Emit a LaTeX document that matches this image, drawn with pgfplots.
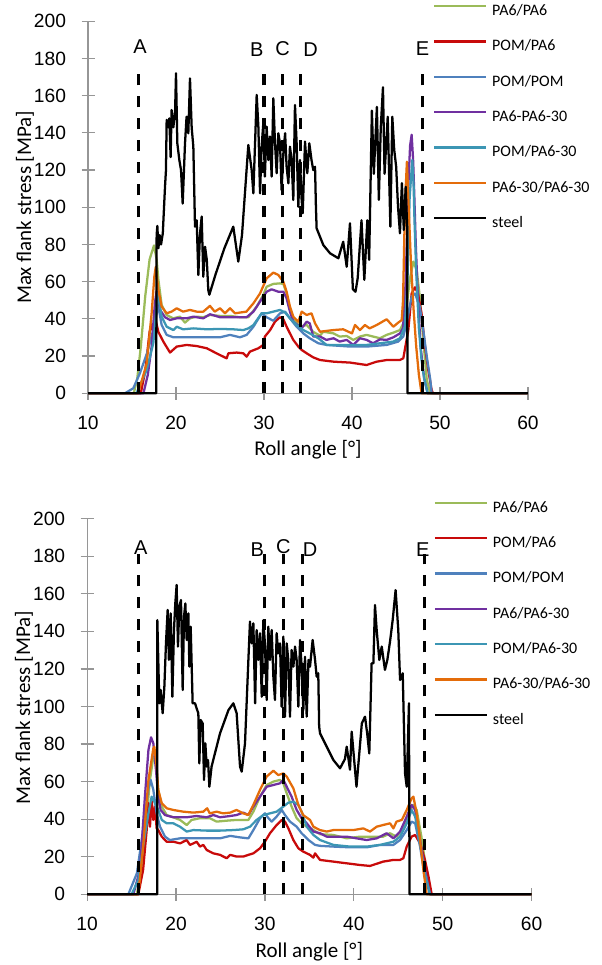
\documentclass[border=0pt]{standalone}
\usepackage{fontspec}
\usepackage{pgfplots}
\pgfplotsset{compat=1.18}
\setmainfont{Carlito}
\newfontfamily\arialf{Liberation Sans}
\definecolor{axgray}{RGB}{150,150,150}
\definecolor{cgreen}{RGB}{155,187,89}
\definecolor{cred}{RGB}{200,10,10}
\definecolor{cblue}{RGB}{79,129,189}
\definecolor{cpurple}{RGB}{112,48,160}
\definecolor{cteal}{RGB}{60,150,180}
\definecolor{corange}{RGB}{228,108,10}
\tikzset{letter/.style={font=\arialf\fontsize{15}{18}\selectfont, inner sep=0pt}}
\pgfplotsset{
  panel/.style={
    scale only axis, xmin=10, xmax=60, ymin=0, ymax=200,
    xtick={10,20,30,40,50,60}, ytick={0,20,...,200},
    axis x line*=bottom, axis y line*=left,
    axis line style={draw=axgray, line width=0.9pt, -},
    tick style={draw=axgray, line width=0.9pt},
    tick align=center, major tick length=9.75pt,
    /pgf/number format/assume math mode=true,
    tick label style={font=\arialf\fontsize{14.4}{16}\selectfont},
    xticklabel style={anchor=center, yshift=-17pt},
    yticklabel style={anchor=east, inner sep=0pt, xshift=-11.4pt},
    label style={font=\fontsize{15.75}{18}\selectfont},
    clip=false,
    legend cell align=left,
    legend style={draw=none, fill=none, inner sep=0pt, anchor=north west,
      font=\fontsize{12}{14}\selectfont, row sep=14.5pt, column sep=3.75pt,
      nodes={inner sep=0pt, text height=9pt, text depth=3pt}},
    legend image code/.code={\draw[##1] (0pt,4pt) -- (39pt,4pt);},
    every axis plot/.append style={line width=1.7pt, line join=round},
  },
  vdash/.style={black, line width=2.3pt, dash pattern=on 8.5pt off 8pt, forget plot},
}
\begin{document}
\begin{tikzpicture}
\useasboundingbox (0pt,0pt) rectangle (451.5pt,723.75pt);
% ---------------- top panel ----------------
\begin{axis}[panel, at={(66pt,428.78pt)}, anchor=south west,
  width=330pt, height=279pt,
  xlabel={Roll angle [°]}, ylabel={Max flank stress [MPa]},
  xlabel style={at={(axis description cs:0.5,-0.152)}, anchor=center},
  ylabel style={at={(axis description cs:-0.143,0.5)}, anchor=center},
  legend style={at={(axis description cs:0.7834,1.0484)}}]
\addplot[cgreen] coordinates {(10,0) (15.2,0) (15.6,8) (16.0,25) (16.5,52) (17.0,72) (17.5,79.5) (17.8,72) (18.0,61) (18.37,47.5) (18.94,42.1) (19.7,40.3) (20.45,41.2) (21.02,38) (21.59,40.3) (22.35,41.2) (23.1,40.9) (23.86,42.1) (25.0,41.6) (26.14,41.6) (27.27,40.9) (28.22,40.9) (29.17,46.6) (29.92,52.9) (30.3,57.3) (31.06,58.8) (31.82,59.1) (32.2,58.8) (32.57,53.7) (32.95,44.8) (33.33,40.3) (34.1,35.8) (34.85,36.7) (35.6,33) (36.36,31) (36.74,33.1) (37.9,32.2) (38.6,30.5) (39.4,30.8) (40.15,28.7) (40.9,30.5) (41.66,31.4) (42.4,30.5) (43.18,29.6) (43.94,31.4) (44.7,32.6) (45.45,34.0) (45.83,37.6) (46.2,46.6) (46.6,62) (46.97,70.8) (47.35,66.3) (47.7,52) (48.1,28.7) (48.5,7.2) (48.9,0) (60,0)};
\addlegendentry{PA6/PA6}
\addplot[cred] coordinates {(10,0) (16.0,0) (16.5,12) (17.0,33) (17.2,37) (17.35,34) (17.6,41) (17.8,37) (18.0,33) (18.56,27.8) (19.32,21.9) (20.08,25.1) (21.2,26) (22.35,25.4) (23.5,24.2) (24.6,21.5) (25.76,18.8) (25.95,21.5) (26.9,21.9) (27.65,21.5) (28.03,19.7) (28.4,22.4) (29.36,24.2) (29.92,26) (30.1,30.5) (30.7,34) (31.25,38.5) (31.82,40.9) (32.2,39.8) (32.57,35.8) (32.95,32.2) (33.33,28.7) (33.9,25.1) (34.28,23.3) (34.85,21.5) (35.6,19.3) (36.36,17.9) (37.9,17) (39.8,16.5) (41.66,15.2) (42.8,17) (43.94,17.9) (45.45,17.9) (45.83,18.8) (46.4,34) (46.78,53.7) (47.16,57) (47.5,53.7) (47.9,43) (48.3,25) (48.67,12.5) (49.05,1.8) (49.2,0) (60,0)};
\addlegendentry{POM/PA6}
\addplot[cblue] coordinates {(10,0) (14.2,0) (15.15,2.7) (15.9,10.8) (16.7,21.5) (17.42,34) (17.8,43) (18.0,46.6) (18.37,36.7) (18.94,31.4) (19.7,30.1) (21.2,30.1) (23.1,30.1) (25.0,30.1) (26.14,31.4) (27.27,30.1) (28.03,31.4) (28.8,35.8) (29.73,43) (30.3,40.9) (31.06,39) (31.82,43) (32.4,43.9) (32.95,40.3) (33.7,35.8) (34.47,32.2) (35.2,29.6) (36.17,26.9) (37.1,26) (39.8,25.1) (41.66,25.1) (43.94,26) (45.26,27.8) (45.83,30.5) (46.2,37.6) (46.78,52) (47.16,53.7) (47.7,46.6) (48.1,34) (48.5,19.7) (48.9,7.2) (49.05,0) (60,0)};
\addlegendentry{POM/POM}
\addplot[cpurple] coordinates {(10,0) (16.3,0) (16.8,10) (17.23,25) (17.6,48.4) (17.8,55) (18.0,50) (18.2,44.8) (18.75,40.9) (19.32,39.4) (20.08,40.3) (21.2,40.3) (21.97,41.2) (23.1,40.3) (23.86,42.5) (25.0,40.9) (26.14,40.9) (27.27,40.9) (28.03,40.9) (28.8,43.9) (29.55,49.3) (30.3,54.6) (30.87,55.9) (31.63,54.6) (32.2,54.6) (32.57,51) (32.95,43.9) (33.33,38.5) (34.28,35) (34.85,38.5) (35.2,37.6) (35.6,30.5) (36.36,30.5) (37.1,28.7) (37.9,29.6) (38.6,27.8) (39.4,28.7) (40.15,26) (40.9,29.6) (41.66,28.7) (42.4,26.9) (43.18,29) (43.94,28.7) (44.7,30.1) (45.45,32.2) (45.8,35) (46.1,60) (46.4,111) (46.6,133) (46.78,139) (46.95,125) (47.05,111) (47.25,80) (47.5,50) (47.8,25) (48.2,8) (48.6,0) (60,0)};
\addlegendentry{PA6-PA6-30}
\addplot[cteal] coordinates {(10,0) (15.5,0) (16.67,12.5) (17.42,26.9) (17.73,43) (17.92,53.8) (18.37,41.2) (18.94,35.8) (19.7,34) (20.08,35.8) (20.8,34.4) (21.97,34.9) (23.5,34.4) (25.0,34.6) (26.5,34.4) (27.65,34) (28.22,34.9) (28.8,36.7) (29.73,43) (30.3,43) (31.06,43.9) (31.82,44.8) (32.4,43.4) (32.95,40.3) (33.7,36.7) (34.47,34) (35.2,32.2) (36.17,29.6) (37.1,26) (39.8,26) (41.66,26) (43.18,26.9) (44.7,27.8) (45.45,29.6) (46.0,35.8) (46.3,60) (46.55,105) (46.85,125.4) (47.0,112) (47.1,93) (47.3,65) (47.6,35) (47.9,18) (48.2,8) (48.6,0) (60,0)};
\addlegendentry{POM/PA6-30}
\addplot[corange] coordinates {(10,0) (15.7,0) (16.67,16) (17.23,43) (17.54,62.7) (17.7,68) (18.0,55.5) (18.37,46.6) (18.94,43) (19.5,43.9) (20.08,45.7) (20.8,43.9) (21.59,44.8) (22.35,43.9) (23.1,43.9) (23.86,47) (24.4,43.9) (25.0,45.7) (25.57,43) (26.14,45.7) (26.7,43) (27.27,43.4) (28.0,43.9) (28.8,48.4) (29.55,53.7) (30.3,61.8) (31.06,64.9) (31.63,63.6) (32.2,60) (32.57,54.6) (32.95,46.6) (33.33,41.2) (33.9,38.5) (34.28,43.9) (34.85,42.1) (35.4,43) (35.8,37.6) (36.36,33.1) (37.9,34) (39.0,34.4) (40.0,32.2) (40.34,36.7) (40.9,34) (41.47,36.7) (42.0,34.9) (42.8,36.7) (43.94,39.8) (44.7,35.8) (45.26,38) (45.65,39.4) (45.8,50) (45.95,85) (46.1,110) (46.24,124.5) (46.4,105) (46.7,70) (47.0,45) (47.3,25) (47.6,10) (47.9,0) (60,0)};
\addlegendentry{PA6-30/PA6-30}
\addplot[black] coordinates {(10,0) (17.75,0) (17.8,85) (17.88,90) (18.0,78) (18.15,85) (18.3,80) (18.5,86) (18.75,111) (18.86,120) (18.94,147) (19.13,143) (19.24,147.8) (19.39,127) (19.5,152.3) (19.7,143) (19.9,152) (20.0,172) (20.15,134.4) (20.38,125.4) (20.57,120) (20.76,102) (21.02,134) (21.2,148.7) (21.4,139.8) (21.59,169.3) (21.78,143) (21.97,132.6) (22.16,89.6) (22.35,93) (22.54,63.6) (22.73,86) (22.92,95) (23.1,62.7) (23.3,78.8) (23.5,71.7) (23.67,55.5) (23.79,53) (24.5,64) (25.5,78) (26.51,89.6) (27.08,70.8) (27.5,85) (28.22,133.5) (28.6,120) (28.79,107.5) (29.17,160.4) (29.36,143.4) (29.55,107.5) (29.73,132.6) (29.92,145.1) (30.1,116.5) (30.3,143.4) (30.5,125.4) (30.68,138) (30.87,116.5) (31.06,158.6) (31.25,134.4) (31.44,118.3) (31.63,139.8) (31.82,134.4) (32.0,109.3) (32.2,129) (32.4,139.8) (32.57,121.8) (32.77,112.9) (32.95,132.6) (33.14,125.4) (33.33,103.9) (33.52,155) (33.71,134.4) (33.9,100.3) (34.09,125.4) (34.28,103.9) (34.4,96.8) (34.66,135.3) (34.92,118.3) (35.15,134.4) (35.4,125.4) (35.6,120) (35.8,121.8) (35.9,100.3) (35.98,88.7) (36.74,79.7) (37.5,75.3) (38.45,72.6) (39.0,81.5) (39.4,68) (39.77,91.4) (40.1,56) (40.4,54.6) (40.65,62) (41.08,93) (41.4,61) (41.74,93) (41.95,71.7) (42.26,152) (42.48,118) (42.83,154) (43.05,104) (43.27,143) (43.52,164.5) (43.7,118) (44.06,148.7) (44.36,89.6) (44.58,148.7) (44.8,130.8) (45.02,121.8) (45.23,100.3) (45.45,86) (45.67,113) (45.89,87.8) (46.1,111) (46.28,87.8) (46.3,0) (60,0)};
\addlegendentry{steel}
\addplot[vdash] coordinates {(15.75,0) (15.75,174)};
\addplot[vdash] coordinates {(30,0) (30,174)};
\addplot[vdash] coordinates {(32.1,0) (32.1,174)};
\addplot[vdash] coordinates {(34.2,0) (34.2,174)};
\addplot[vdash] coordinates {(48,0) (48,174)};
\node[letter] at (axis cs:15.9,186.6) {A};
\node[letter] at (axis cs:29.17,184.6) {B};
\node[letter] at (axis cs:32.1,185.5) {C};
\node[letter] at (axis cs:35.3,184.6) {D};
\node[letter] at (axis cs:48.03,185.5) {E};
\end{axis}
% ---------------- bottom panel ----------------
\begin{axis}[panel, at={(65.33pt,53.03pt)}, anchor=south west,
  width=333.4pt, height=281.7pt,
  xlabel={Roll angle [°]}, ylabel={Max flank stress [MPa]},
  xlabel style={at={(axis description cs:0.5,-0.153)}, anchor=center},
  ylabel style={at={(axis description cs:-0.142,0.497)}, anchor=center},
  legend style={at={(axis description cs:0.779,1.0498)}}]
\addplot[cgreen] coordinates {(10,0) (15.6,0) (16.3,20) (17.07,60.9) (17.45,73.3) (17.75,69.8) (18.0,55.6) (18.4,46.7) (18.95,42.2) (19.7,41) (20.45,39.6) (21.2,36.9) (21.76,39.6) (22.7,40.5) (23.8,40.5) (24.57,38.7) (25.7,39.2) (26.8,39.6) (28.14,39.6) (28.7,44) (29.45,52) (30.2,58.2) (30.95,60) (31.7,60.9) (32.07,59.1) (32.45,53.8) (33.0,46.7) (33.57,40.5) (34.13,37.8) (34.7,36) (35.45,34.2) (36.2,32) (37.7,31.6) (39.2,29.8) (40.7,30.7) (42.2,30.7) (43.3,30.7) (44.07,32.5) (44.8,30.7) (45.57,35.1) (46.1,43.1) (46.7,47.6) (47.07,44.9) (47.6,30.7) (48.2,11.2) (48.57,0) (60,0)};
\addlegendentry{PA6/PA6}
\addplot[cred] coordinates {(10,0) (15.76,0) (16.3,13) (16.7,34.2) (16.9,48.5) (17.07,36) (17.26,50.2) (17.45,39.6) (17.64,46.7) (17.82,35.1) (18.0,34.2) (18.4,30.7) (18.95,28) (19.7,28) (20.45,27.1) (21.2,28.9) (21.57,26.3) (21.95,27.1) (22.32,28) (22.7,25.4) (23.07,26.3) (23.45,23.6) (24.2,21.8) (24.95,21) (25.7,19.2) (26.1,21) (26.8,20.1) (27.57,20.1) (28.14,21) (28.7,21.8) (29.45,24.5) (30.0,28) (30.57,32.5) (31.32,36.9) (31.9,39.6) (32.26,38.7) (32.64,35.1) (33.2,28.9) (33.76,24.5) (34.32,22.7) (35.07,21) (35.45,19.5) (35.64,21.8) (36.2,18.3) (37.7,17.4) (39.2,16.5) (40.7,15.6) (41.82,15.1) (43.3,17.4) (44.45,18.3) (45.2,18.3) (45.57,19.2) (45.95,25.4) (46.5,30.7) (46.9,31.6) (47.45,27.1) (48.0,18.3) (48.4,9.4) (48.76,0) (60,0)};
\addlegendentry{POM/PA6}
\addplot[cblue] coordinates {(10,0) (14.64,0) (15.6,11.2) (16.3,34.2) (16.9,56.4) (17.15,60.9) (17.45,55.6) (17.82,43.1) (18.2,36) (18.76,30.7) (19.3,28.9) (20.45,29.8) (21.95,29.8) (23.45,29.8) (24.95,29.8) (26.1,31.1) (27.2,30.3) (28.14,29.8) (28.7,34.2) (29.45,40.5) (30.0,43.1) (30.4,40.5) (30.76,38.7) (31.3,41.3) (31.9,44.9) (32.26,42.2) (32.82,38.7) (33.57,36) (34.13,32.5) (34.9,28.9) (35.64,26.3) (36.2,25.8) (37.7,25.4) (39.6,25) (41.45,25) (42.95,26.3) (44.45,26.3) (45.2,28.9) (45.95,34.2) (46.5,38.7) (46.9,37.8) (47.45,25.4) (48.0,9.4) (48.57,0) (60,0)};
\addlegendentry{POM/POM}
\addplot[cpurple] coordinates {(10,0) (15.2,0) (15.95,13) (16.5,52) (16.9,76.9) (17.19,83.6) (17.45,80.4) (17.75,66.2) (18.0,52) (18.27,44.9) (18.76,42.2) (19.7,41) (21.2,41) (22.3,41.7) (23.45,41) (24.2,42.2) (24.95,41) (26.1,41.7) (26.8,42.2) (27.57,43.5) (28.14,42.2) (28.7,46.7) (29.45,52) (30.2,57.3) (30.95,58.2) (31.7,59.1) (32.07,60.9) (32.45,57.3) (33.0,52) (33.57,44.9) (34.13,40.5) (34.7,37.8) (35.45,33.4) (36.2,32.5) (36.95,30.7) (38.1,30.7) (39.2,30.7) (40.3,29.8) (41.45,28.9) (42.57,29.8) (43.7,32.5) (44.45,29.8) (45.2,33.4) (45.95,41.3) (46.5,47.6) (46.9,44.9) (47.45,28.9) (48.0,13) (48.57,0) (60,0)};
\addlegendentry{PA6/PA6-30}
\addplot[cteal] coordinates {(10,0) (15.0,0) (15.76,7.6) (16.3,25.4) (16.9,43.1) (17.26,52) (17.64,48.5) (18.0,44.9) (18.4,39.6) (18.95,37.8) (19.7,37.8) (20.45,36) (21.2,33.4) (21.95,34.2) (23.45,33.9) (24.95,33.9) (26.45,34.2) (27.57,34.6) (28.32,36) (29.07,39.6) (29.82,42.2) (30.57,43.1) (31.32,44) (32.07,46.7) (32.64,48.8) (33.2,49.3) (33.76,47.6) (34.13,44) (34.7,36) (35.45,31.6) (36.2,28.9) (37.7,26.3) (39.6,25.4) (41.45,25.4) (42.95,26.3) (44.45,28) (45.2,30.7) (45.95,37.8) (46.5,44.9) (46.9,41.4) (47.45,27.1) (48.0,11.2) (48.57,0) (60,0)};
\addlegendentry{POM/PA6-30}
\addplot[corange] coordinates {(10,0) (15.76,0) (16.3,25.4) (16.9,60.9) (17.45,77.7) (17.56,78.6) (17.82,68) (18.0,55.6) (18.4,48.5) (18.95,45.8) (19.7,44.9) (20.8,44) (21.95,43.5) (23.07,44) (23.5,45.8) (23.8,43.1) (24.57,44) (25.3,43.1) (26.1,43.5) (26.8,44.9) (27.57,43.1) (28.14,42.2) (28.7,47.6) (29.45,55.6) (30.2,62.7) (30.95,65.8) (31.5,63.5) (32.07,64.4) (32.45,62.7) (33.2,56.4) (33.76,47.6) (34.3,42.2) (35.07,39.6) (35.45,36) (36.2,34.2) (36.95,33.4) (37.7,34.2) (38.8,34.2) (39.95,34.2) (41.07,35.1) (41.82,33.4) (42.57,36) (43.3,36.9) (44.07,37.8) (44.45,35.1) (44.8,38.7) (45.4,39.6) (45.95,44.9) (46.5,51.1) (46.7,52) (47.07,43.1) (47.45,28.9) (47.82,13) (48.2,0) (60,0)};
\addlegendentry{PA6-30/PA6-30}
\addplot[black] coordinates {(10,0) (17.88,0) (17.9,146) (18.12,101.7) (18.27,108.8) (18.5,96.4) (18.69,110.6) (18.87,133.6) (19.06,151.4) (19.2,124.8) (19.4,149.6) (19.59,105.2) (19.77,140.7) (19.92,154.9) (20.07,164.7) (20.22,131.9) (20.37,153.2) (20.56,156.7) (20.75,108.8) (20.9,147.8) (21.05,154.9) (21.2,135.4) (21.39,149.6) (21.5,121.2) (21.65,142.5) (21.87,101.7) (22.14,101.7) (22.32,99) (22.51,96.4) (22.62,69.7) (22.77,92.8) (23.0,91) (23.15,60.9) (23.3,80.4) (23.45,68) (23.6,71.5) (23.75,57.3) (24.0,68) (24.95,85.7) (25.9,98.1) (26.45,101.7) (26.82,96.4) (27.2,68) (27.39,65.3) (27.76,80.4) (28.14,124.8) (28.32,145.2) (28.51,133.6) (28.7,144.3) (28.9,101.7) (29.07,140.7) (29.26,124.8) (29.45,139) (29.64,105.2) (29.82,146) (30.0,133.6) (30.2,103.5) (30.38,142.5) (30.57,124.8) (30.76,140.7) (30.95,115.9) (31.13,103.5) (31.32,139) (31.5,128.3) (31.7,133.6) (31.88,99.9) (32.07,137.2) (32.26,94.6) (32.45,133.6) (32.63,124.8) (32.82,94.6) (33.0,130.1) (33.2,121.2) (33.39,131.9) (33.57,124.8) (33.76,99.9) (33.95,135.4) (34.13,121.2) (34.32,98.1) (34.51,126.5) (34.7,94.6) (34.9,124.8) (35.07,121.2) (35.37,135.4) (35.64,124.8) (35.82,115.9) (36.0,117.7) (36.1,89.3) (36.2,85.7) (36.95,78.6) (37.7,71.5) (38.45,67.1) (39.0,72) (39.2,78.6) (39.57,66.3) (39.76,86.6) (40.3,57.3) (40.9,91) (41.26,94.6) (41.5,85.7) (41.74,75) (42.0,123) (42.2,123) (42.38,154) (42.57,140.7) (42.87,124.8) (43.14,131.9) (43.5,119.5) (43.77,124.8) (44.07,134.5) (44.37,146) (44.7,162) (45.0,140.7) (45.2,114.1) (45.5,117.7) (45.76,64.4) (45.95,57.3) (46.2,101.7) (46.27,0) (60,0)};
\addlegendentry{steel}
\addplot[vdash] coordinates {(15.8,0) (15.8,181)};
\addplot[vdash] coordinates {(30,0) (30,181)};
\addplot[vdash] coordinates {(32.1,0) (32.1,181)};
\addplot[vdash] coordinates {(34.2,0) (34.2,181)};
\addplot[vdash] coordinates {(48,0) (48,181)};
\node[letter] at (axis cs:16.03,184.8) {A};
\node[letter] at (axis cs:29.15,183.3) {B};
\node[letter] at (axis cs:32.07,185.1) {C};
\node[letter] at (axis cs:35.07,183.7) {D};
\node[letter] at (axis cs:47.75,183.7) {E};
\end{axis}
\end{tikzpicture}
\end{document}
